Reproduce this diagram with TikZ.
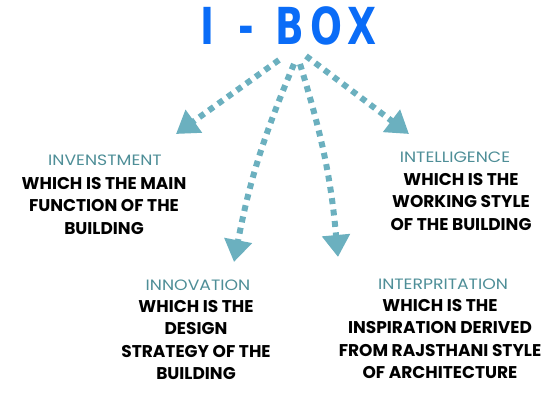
\documentclass[tikz,border=0pt]{standalone}
\usepackage{fontspec}
\setmainfont{Poppins}
\newfontfamily\titlefont[LetterSpace=16]{DejaVu Sans Condensed Bold}
\usetikzlibrary{arrows.meta}
\definecolor{tblue}{HTML}{0A6CF7}
\definecolor{tarrow}{HTML}{6BB0BF}
\definecolor{tlabel}{HTML}{4E8E97}
\tikzset{
  titletext/.style={text=tblue, font=\titlefont\fontsize{51}{51}\selectfont, xscale=0.82, inner sep=0pt, anchor=base},
  headtext/.style={text=tlabel, font=\fontsize{15}{16}\selectfont, xscale=1.15, anchor=center, inner sep=0pt},
  bodytext/.style={text=black, font=\bfseries\fontsize{17}{22.5}\selectfont, align=center, anchor=north, inner sep=0pt},
  dotarrow/.style={draw=tarrow, line width=6pt, dash pattern=on 6pt off 5.5pt,
     -{Triangle[length=22pt,width=27pt]}}
}
\begin{document}
\begin{tikzpicture}[x=1pt,y=-1pt]
\useasboundingbox (0,0) rectangle (555,403);
\node[titletext] (ti) at (207,45) {I};
\node[titletext] (tdash) at (246,45) {-};
\node[titletext] (tbox) at (326,45) {BOX};
% start points
\coordinate (s1) at (279,60);
\coordinate (s2) at (294,64);
\coordinate (s3) at (300,64);
\coordinate (s4) at (306,56);
% tips
\coordinate (t1) at (176,134);
\coordinate (t2) at (234,262);
\coordinate (t3) at (338,257);
\coordinate (t4) at (409,134);
\draw[dotarrow] (s1) -- (t1);
\draw[dotarrow] (s2) to[bend right=6] (t2);
\draw[dotarrow] (s3) to[bend left=6] (t3);
\draw[dotarrow] (s4) -- (t4);
% labels
\node[headtext] (h1) at (105,160) {INVENSTMENT};
\node[bodytext] (b1) at (104,177) {WHICH IS THE MAIN\\FUNCTION OF THE\\BUILDING};
\node[headtext] (h4) at (455,157) {INTELLIGENCE};
\node[bodytext] (b4) at (461,173) {WHICH IS THE\\WORKING STYLE\\OF THE BUILDING};
\node[headtext] (h2) at (198,285) {INNOVATION};
\node[bodytext] (b2) at (196,300) {WHICH IS THE\\DESIGN\\STRATEGY OF THE\\BUILDING};
\node[headtext] (h3) at (443,284) {INTERPRITATION};
\node[bodytext] (b3) at (440,299) {WHICH IS THE\\INSPIRATION DERIVED\\FROM RAJSTHANI STYLE\\OF ARCHITECTURE};
\end{tikzpicture}
\end{document}
